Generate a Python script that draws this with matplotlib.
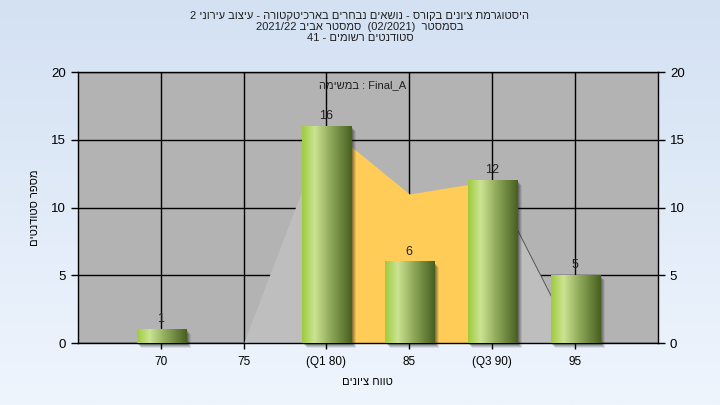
import numpy as np
import matplotlib
matplotlib.use('Agg')
import matplotlib.pyplot as plt
from matplotlib.colors import LinearSegmentedColormap
from matplotlib.patches import Rectangle
import matplotlib.transforms as mtransforms

plt.rcParams['font.family'] = ['Liberation Sans', 'DejaVu Sans']

# ---- data ----
categories = ['70', '75', '(Q1 80)', '85', '(Q3 90)', '95']
counts = [1, 0, 16, 6, 12, 5]
curve = [0, 0, 16, 11, 12, 0]
q1_index, q3_index = 2, 4
y_ticks = [0, 5, 10, 15, 20]


def vis(s):
    # visual (left-to-right) order of a Hebrew run
    return s[::-1]


title_lines = [
    "2 " + vis("עיצוב עירוני") + " - " + vis("נושאים נבחרים בארכיטקטורה") + " - " + vis("היסטוגרמת ציונים בקורס"),
    "2021/22 " + vis("סמסטר אביב") + "  (02/2021)  " + vis("בסמסטר"),
    "41 - " + vis("סטודנטים רשומים"),
]
task_label = vis("במשימה") + " : Final_A"
x_label = vis("טווח ציונים")
y_label = vis("מספר סטודנטים")

# ---- figure ----
fig = plt.figure(figsize=(7.2, 4.05), dpi=100)

bg = fig.add_axes([0, 0, 1, 1], zorder=-10)
grad_bg = np.linspace(0, 1, 256).reshape(-1, 1)
bg_cmap = LinearSegmentedColormap.from_list('bg', ['#D3E1F3', '#EFF5FD'])
bg.imshow(grad_bg, aspect='auto', cmap=bg_cmap, extent=(0, 1, 0, 1))
bg.axis('off')

ax = fig.add_axes([0.108, 0.153, 0.806, 0.669])
ax.set_facecolor('#B3B3B3')
x = np.arange(len(categories))

# area curve
gray_fill = '#BEBEBE'
yellow_fill = '#FFCC57'
ax.fill_between(x[:q1_index + 1], curve[:q1_index + 1], color=gray_fill, lw=0, zorder=1)
ax.fill_between(x[q1_index:q3_index + 1], curve[q1_index:q3_index + 1], color=yellow_fill, lw=0, zorder=1)
ax.fill_between(x[q3_index:], curve[q3_index:], color=gray_fill, lw=0, zorder=1)
ax.plot(x[:2], curve[:2], color='#7A7A7A', lw=1.0, zorder=1.5)
ax.plot(x[q3_index:], curve[q3_index:], color='#555555', lw=0.7, zorder=1.5)

# bars with gradient + shadow
w = 0.6
bar_cmap = LinearSegmentedColormap.from_list(
    'g', [(0, '#9FCB3C'), (0.25, '#CBE493'), (0.55, '#93AD5E'), (1, '#48601F')])
grad = np.linspace(0, 1, 128).reshape(1, -1)
for xi, c in zip(x, counts):
    if c <= 0:
        continue
    for k, a in zip([2, 3, 4, 5], [0.22, 0.18, 0.14, 0.10]):
        tr = ax.transData + mtransforms.ScaledTranslation(k / 100, -k / 100, fig.dpi_scale_trans)
        ax.add_patch(Rectangle((xi - w / 2, 0), w, c, transform=tr, facecolor='#202020',
                               alpha=a, lw=0, zorder=2, clip_on=False))
    ax.imshow(grad, extent=(xi - w / 2 + 0.01, xi + w / 2 + 0.01, 0, c), aspect='auto', cmap=bar_cmap,
              zorder=3, interpolation='bicubic')
    ax.annotate(str(c), (xi, c), xytext=(0, 3), textcoords='offset points',
                ha='center', va='bottom', fontsize=9, color='#202020', zorder=4)

ax.set_xlim(-1, 6)
ax.set_ylim(0, 20)
ax.set_aspect('auto')
ax.set_xticks(x)
ax.set_xticklabels(categories, fontsize=8.5)
ax.set_yticks(y_ticks)
ax.yaxis.set_ticks_position('both')
ax.tick_params(axis='y', labelright=True, labelsize=9.5, direction='out', length=5, width=1)
ax.tick_params(axis='x', direction='out', length=4, width=1, pad=5)
ax.grid(True, color='black', lw=1, zorder=0.5)
ax.set_axisbelow(True)
for s in ax.spines.values():
    s.set_color('black')
    s.set_linewidth(1)

ax.text(0.49, 0.952, task_label, transform=ax.transAxes, ha='center', va='center',
        fontsize=8, color='#202020', zorder=5)

ax.set_xlabel(x_label, fontsize=8, labelpad=7)
ax.set_ylabel(y_label, fontsize=8, labelpad=8)

fig.text(0.5, 0.972, '\n'.join(title_lines), ha='center', va='top', fontsize=8,
         linespacing=1.12, color='#202020')

fig.savefig('out.png', dpi=100)
